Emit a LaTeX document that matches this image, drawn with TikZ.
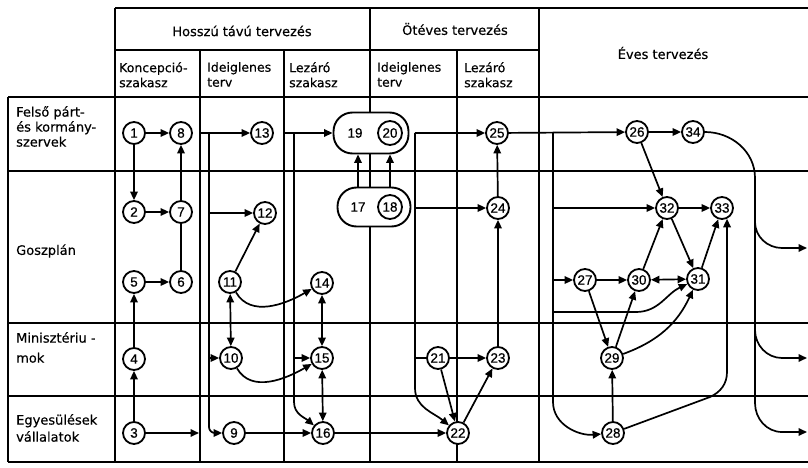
\documentclass[tikz,border=0pt]{standalone}
\usepackage{fontspec}
\setmainfont{DejaVu Sans}[FakeBold=0.4]
\newfontfamily\numfont{Liberation Sans}[FakeBold=0.6]
\usetikzlibrary{arrows.meta}
\begin{document}
\begin{tikzpicture}[x=1pt,y=-1pt,
  grid/.style={line width=1.9pt},
  conn/.style={line width=1.7pt},
  arr/.style={conn,-{Triangle[length=8.5pt,width=7.5pt]}},
  darr/.style={conn,{Triangle[length=8.5pt,width=7.5pt]}-{Triangle[length=8.5pt,width=7.5pt]}},
  num/.style={circle,draw,line width=1.8pt,fill=white,minimum size=22pt,inner sep=0pt,font=\numfont\fontsize{13.5}{14}\selectfont},
  big/.style={num,minimum size=24pt},
  plainnum/.style={inner sep=0pt,font=\numfont\fontsize{13.5}{14}\selectfont},
  capsule/.style={draw,line width=1.9pt,fill=white,rounded corners=19pt,inner sep=0pt},
  hdr/.style={font=\fontsize{13}{15}\selectfont,inner sep=0pt},
  sub/.style={font=\fontsize{12.5}{15}\selectfont,align=left,anchor=north west,inner sep=0pt},
  lab/.style={font=\fontsize{13}{15}\selectfont,align=left,inner sep=0pt},
]
\useasboundingbox (0,0) rectangle (808,468);
% ---------- grid ----------
\draw[grid] (115,8) -- (808,8);
\draw[grid] (115,50) -- (539,50);
\draw[grid] (8,97) -- (808,97);
\draw[grid] (8,171) -- (808,171);
\draw[grid] (8,323) -- (808,323);
\draw[grid] (8,396) -- (808,396);
\draw[grid] (8,462) -- (808,462);
\draw[grid] (8,97) -- (8,462);
\draw[grid] (115,8) -- (115,462);
\draw[grid] (370,8) -- (370,462);
\draw[grid] (539,8) -- (539,462);
\draw[grid] (200,50) -- (200,462);
\draw[grid] (284,50) -- (284,462);
\draw[grid] (457,50) -- (457,462);
% ---------- headers ----------
\node[hdr] (hh) at (242,31) {Hosszú távú tervezés};
\node[hdr] (ho) at (455,29) {Ötéves tervezés};
\node[hdr] (he) at (663,53) {Éves tervezés};
\node[sub] (s1) at (119,62) {Koncepció-\\szakasz};
\node[sub] (s2) at (207,62) {Ideiglenes\\terv};
\node[sub] (s3) at (289,62) {Lezáró\\szakasz};
\node[sub] (s4) at (377,62) {Ideiglenes\\terv};
\node[sub] (s5) at (464,62) {Lezáró\\szakasz};
% ---------- row labels ----------
\node[lab,anchor=north west] (r1) at (16,106) {Felső párt-\\és kormány-\\szervek};
\node[lab,anchor=west] (r2) at (16,251) {Goszplán};
\node[lab,anchor=north west] (r3) at (16,332) {Minisztériu -\\[5pt]mok};
\node[lab,anchor=north west] (r4) at (16,414) {Egyesülések\\[2pt]vállalatok};
% ---------- nodes ----------
\node[num] (n1) at (134,133) {1};
\node[num] (n8) at (181,133) {8};
\node[num] (n2) at (134,212) {2};
\node[num] (n7) at (181,212) {7};
\node[num] (n5) at (134,282) {5};
\node[num] (n6) at (181,282) {6};
\node[num] (n4) at (134,359) {4};
\node[num] (n3) at (134,433) {3};
\node[num] (n13) at (262,133) {13};
\node[num] (n12) at (265,213) {12};
\node[num] (n11) at (230,282) {11};
\node[num] (n10) at (231,358) {10};
\node[num] (n9) at (234,433) {9};
\node[num] (n14) at (322,283) {14};
\node[num] (n15) at (322,358) {15};
\node[num] (n16) at (323,433) {16};
\node[capsule,minimum width=75pt,minimum height=41pt] (c19) at (371,133) {};
\node[plainnum] (n19) at (355,133) {19};
\node[big] (n20) at (390,133) {20};
\node[capsule,minimum width=73pt,minimum height=39pt] (c17) at (374,207) {};
\node[plainnum] (n17) at (358,207) {17};
\node[big] (n18) at (390,207) {18};
\node[num] (n21) at (438,358) {21};
\node[num] (n22) at (458,433) {22};
\node[num] (n25) at (497,133) {25};
\node[num] (n24) at (498,208) {24};
\node[num] (n23) at (498,358) {23};
\node[num] (n26) at (637,132) {26};
\node[num] (n34) at (693,132) {34};
\node[num] (n32) at (667,208) {32};
\node[num] (n33) at (722,208) {33};
\node[num] (n27) at (585,280) {27};
\node[num] (n30) at (639,280) {30};
\node[num] (n31) at (698,279) {31};
\node[num] (n29) at (612,358) {29};
\node[num] (n28) at (613,433) {28};
% ---------- Koncepció ----------
\coordinate (o3) at (199,433);
\draw[arr] (n1) -- (n8);
\draw[arr] (n1) -- (n2);
\draw[arr] (n2) -- (n7);
\draw[arr] (n7) -- (n8);
\draw[conn] (n6) -- (n7);
\draw[arr] (n5) -- (n6);
\draw[arr] (n4) -- (n5);
\draw[arr] (n3) -- (n4);
\draw[arr] (n3) -- (o3);
% ---------- Hosszú: ideiglenes ----------
\coordinate (i13) at (200,133);
\coordinate (j13) at (209,133);
\draw[arr] (i13) -- (n13);
\draw[arr,rounded corners=6pt] (j13) |- (n9);
\draw[arr] (j13 |- n12) -- (n12);
\draw[arr] (j13 |- n10) -- (n10);
\draw[arr] (n11) -- (n12);
\draw[darr] (n11) -- (n10);
\draw[arr] (n11) to[out=-60,in=210] (n14);
\draw[arr] (n10) to[out=-60,in=210] (n15);
\draw[arr] (n9) -- (n16);
% ---------- Hosszú: lezáró ----------
\coordinate (i19) at (284,133);
\coordinate (j19) at (294,133);
\coordinate (k16) at (294,402);
\draw[arr] (i19) -- (c19);
\draw[arr] (j19) -- (k16) to[out=-90,in=140] (n16);
\draw[arr] (j19 |- n15) -- (n15);
\draw[darr] (n14) -- (n15);
\draw[darr] (n15) -- (n16);
\draw[arr] (c17.north -| n17) -- (c19.south -| n17);
\draw[arr] (c17.north -| n18) -- (c19.south -| n18);
% ---------- Ötéves ----------
\coordinate (j25) at (415,133);
\coordinate (k22) at (415,388);
\draw[arr] (j25) -- (n25);
\draw[arr] (j25) -- (k22) to[out=-90,in=140] (n22);
\draw[arr] (j25 |- n24) -- (n24);
\draw[conn] (j25 |- n21) -- (n21);
\draw[arr] (n16) -- (n22);
\draw[arr] (n21) -- (n22);
\draw[arr] (n21) -- (n23);
\draw[arr] (n22) -- (n23);
\draw[arr] (n23) -- (n24);
\draw[arr] (n24) -- (n25);
% ---------- Éves ----------
\coordinate (j26) at (553,133);
\coordinate (k28) at (553,402);
\coordinate (j31) at (553,312);
\coordinate (m31) at (636,312);
\draw[arr] (n25) -- (n26);
\draw[arr] (n26) -- (n34);
\draw[arr] (j26) -- (k28) to[out=-90,in=185] (n28);
\draw[arr] (j26 |- n32) -- (n32);
\draw[arr] (j26 |- n27) -- (n27);
\draw[arr] (j31) -- (m31) to[out=0,in=205] (n31);
\draw[arr] (n26) -- (n32);
\draw[arr] (n32) -- (n33);
\draw[arr] (n27) -- (n30);
\draw[darr] (n30) -- (n31);
\draw[arr] (n30) -- (n32);
\draw[arr] (n32) -- (n31);
\draw[arr] (n31) -- (n33);
\draw[arr] (n27) -- (n29);
\draw[arr] (n29) -- (n30);
\draw[arr] (n29) to[out=20,in=-115] (n31);
\draw[arr] (n28) -- (n29);
\coordinate (p28) at (710,397);
\coordinate (q28) at (727,372);
\draw[arr] (n28) -- (p28) to[out=25,in=-90] (q28) -- (n33.-65);
% outputs
\coordinate (t1) at (755,178);
\coordinate (t2) at (755,403);
\coordinate (e3) at (807,432);
\coordinate (b1) at (755,222);
\coordinate (e1) at (807,248);
\coordinate (b2) at (755,330);
\coordinate (e2) at (807,358);
\draw[arr] (n34) to[out=0,in=90] (t1) -- (t2) to[out=-90,in=180] (782,432) -- (e3);
\draw[arr] (b1) to[out=-90,in=180] (782,248) -- (e1);
\draw[arr] (b2) to[out=-90,in=180] (782,358) -- (e2);
\end{tikzpicture}
\end{document}
